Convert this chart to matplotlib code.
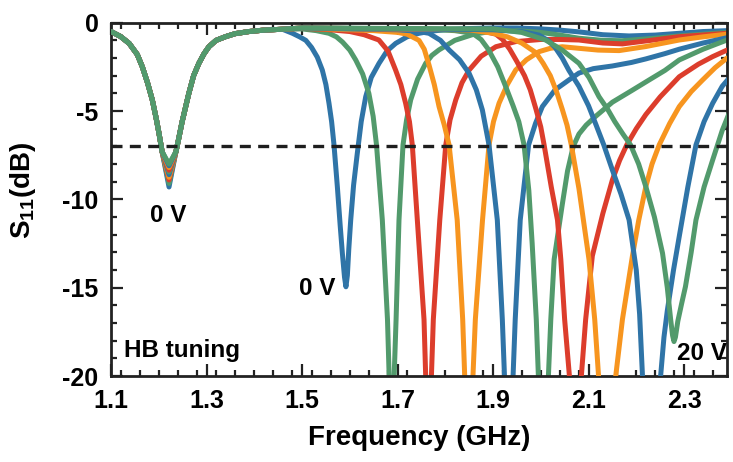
import matplotlib
matplotlib.use("Agg")
import matplotlib.pyplot as plt
from matplotlib.ticker import MultipleLocator

plt.rcParams["font.family"] = ["Liberation Sans", "DejaVu Sans"]
plt.rcParams["font.weight"] = "bold"
plt.rcParams["mathtext.fontset"] = "custom"
plt.rcParams["mathtext.rm"] = "Liberation Sans:bold"
plt.rcParams["mathtext.it"] = "Liberation Sans:bold"
plt.rcParams["mathtext.bf"] = "Liberation Sans:bold"

# ── data ─────────────────────────────────────────────────────────────────────

# low band resonance, shared by all bias voltages (only the dip depth changes)
LOW_LEFT_F = [1.10, 1.12, 1.138, 1.155, 1.1655, 1.1765, 1.1865, 1.1945, 1.2005, 1.207]
LOW_LEFT_S = [-0.5, -0.78, -1.17, -1.8, -2.49, -3.4, -4.37, -5.4, -6.26, -7.3]
DIP_F = 1.2215
LOW_DIP = [-9.3, -9.1, -8.9, -8.75, -8.6, -8.45, -8.35, -8.2, -8.1, -8.0]
LOW_RIGHT_F = [1.236, 1.24, 1.249, 1.263, 1.273, 1.284, 1.295, 1.305, 1.32, 1.34,
               1.36, 1.389, 1.42, 1.459]
LOW_RIGHT_S = [-7.3, -6.8, -5.6, -4.0, -3.0, -2.3, -1.75, -1.36, -1.0, -0.79,
               -0.62, -0.5, -0.42, -0.37]

# high band, one curve per bias step (0 V ... 20 V)
freq_c1 = [1.48, 1.495, 1.508, 1.52, 1.532, 1.5425, 1.55, 1.5565, 1.562, 1.567,
           1.574, 1.580, 1.5845, 1.589, 1.592, 1.595, 1.598, 1.602, 1.608, 1.6158,
           1.624, 1.6334, 1.645, 1.6613, 1.678, 1.6962, 1.72, 1.745, 1.77, 1.80,
           1.85, 1.90, 1.95, 2.00, 2.04, 2.08, 2.13, 2.185, 2.24, 2.29, 2.34, 2.39]
s11_c1 = [-0.6, -0.8, -1.0, -1.4, -1.95, -2.68, -3.5, -4.56, -5.6, -6.92,
          -9.28, -11.5, -13.05, -14.4, -14.95, -14.3, -12.8, -11.17, -9.2, -7.39,
          -5.6, -4.19, -3.1, -2.3, -1.6, -1.17, -0.8, -0.6, -0.48, -0.4,
          -0.33, -0.3, -0.3, -0.35, -0.42, -0.52, -0.68, -0.75, -0.7, -0.6, -0.5, -0.45]

freq_c2 = [1.50, 1.53, 1.5565, 1.572, 1.585, 1.60, 1.6125, 1.627, 1.64, 1.649,
           1.656, 1.6682, 1.679, 1.6825, 1.6875, 1.693, 1.697, 1.7031, 1.7115, 1.719,
           1.7276, 1.742, 1.759, 1.772, 1.7869, 1.82, 1.86, 1.906, 1.95, 2.00,
           2.04, 2.08, 2.13, 2.17, 2.23, 2.29, 2.39]
s11_c2 = [-0.35, -0.45, -0.6, -0.8, -1.1, -1.55, -2.11, -2.9, -4.0, -5.3,
          -6.92, -11.17, -16.8, -20.0, -25.0, -20.0, -16.8, -11.17, -6.92, -5.5,
          -4.37, -3.2, -2.3, -1.85, -1.54, -1.0, -0.65, -0.45, -0.45, -0.55,
          -0.7, -0.88, -1.0, -1.02, -0.9, -0.75, -0.55]

freq_c3 = [1.50, 1.55, 1.60, 1.63, 1.661, 1.680, 1.696, 1.707, 1.717, 1.725,
           1.731, 1.7415, 1.7555, 1.759, 1.765, 1.771, 1.775, 1.7885, 1.801, 1.81,
           1.822, 1.835, 1.850, 1.875, 1.906, 1.9475, 2.00, 2.04, 2.08, 2.13,
           2.171, 2.23, 2.29, 2.39]
s11_c3 = [-0.32, -0.38, -0.5, -0.68, -0.98, -1.6, -2.68, -3.5, -4.56, -5.6,
          -6.92, -11.17, -16.8, -20.0, -26.0, -20.0, -16.8, -11.17, -6.92, -5.5,
          -4.37, -3.4, -2.68, -1.9, -1.36, -1.07, -0.95, -0.95, -0.98, -1.15,
          -1.2, -1.0, -0.79, -0.6]

freq_c4 = [1.50, 1.65, 1.70, 1.72, 1.745, 1.756, 1.766, 1.777, 1.787, 1.798,
           1.808, 1.825, 1.8365, 1.8407, 1.849, 1.858, 1.863, 1.878, 1.8916, 1.901,
           1.9126, 1.93, 1.9475, 1.97, 1.9963, 2.02, 2.045, 2.08, 2.12, 2.164,
           2.22, 2.29, 2.34, 2.39]
s11_c4 = [-0.3, -0.45, -0.55, -0.65, -1.0, -1.5, -2.4, -3.5, -4.75, -5.8,
          -6.92, -11.17, -16.8, -20.0, -26.0, -20.0, -16.8, -11.17, -6.92, -5.6,
          -4.56, -3.5, -2.68, -2.1, -1.64, -1.45, -1.36, -1.45, -1.55, -1.58,
          -1.35, -0.98, -0.8, -0.65]

freq_c5 = [1.50, 1.70, 1.74, 1.766, 1.79, 1.808, 1.83, 1.85, 1.865, 1.8777,
           1.8916, 1.909, 1.9195, 1.924, 1.933, 1.942, 1.9465, 1.957, 1.9745, 1.989,
           2.0033, 2.03, 2.059, 2.08, 2.11, 2.15, 2.19, 2.22, 2.26, 2.29,
           2.34, 2.39]
s11_c5 = [-0.3, -0.4, -0.48, -0.6, -1.0, -1.54, -2.1, -2.87, -3.8, -4.94,
          -6.92, -11.17, -16.8, -20.0, -26.0, -20.0, -16.8, -11.17, -6.92, -5.7,
          -4.75, -3.8, -3.24, -2.85, -2.6, -2.45, -2.25, -2.05, -1.75, -1.5,
          -1.15, -0.85]

freq_c6 = [1.50, 1.75, 1.82, 1.857, 1.875, 1.89, 1.91, 1.9266, 1.942, 1.954,
           1.965, 1.975, 1.982, 1.9906, 1.995, 2.0055, 2.016, 2.021, 2.028, 2.045,
           2.056, 2.068, 2.08, 2.095, 2.115, 2.15, 2.19, 2.227, 2.26, 2.29,
           2.34, 2.39]
s11_c6 = [-0.3, -0.35, -0.45, -0.6, -0.95, -1.5, -2.5, -3.62, -4.7, -5.6,
          -6.92, -9.5, -12.5, -16.8, -20.0, -26.0, -20.0, -16.8, -13.4, -10.3,
          -8.4, -7.0, -6.3, -5.8, -5.3, -4.5, -3.85, -3.24, -2.7, -2.11,
          -1.5, -0.98]

freq_c7 = [1.50, 1.85, 1.88, 1.906, 1.92, 1.935, 1.95, 1.966, 1.978, 1.99,
           2.0, 2.007, 2.022, 2.035, 2.042, 2.050, 2.060, 2.0725, 2.085, 2.094,
           2.108, 2.13, 2.15, 2.165, 2.18, 2.20, 2.22, 2.25, 2.29, 2.33,
           2.36, 2.39]
s11_c7 = [-0.3, -0.4, -0.48, -0.65, -0.95, -1.5, -2.2, -3.0, -3.8, -4.9,
          -5.9, -6.92, -9.3, -11.17, -13.4, -16.8, -20.0, -26.0, -20.0, -16.8,
          -13.2, -10.8, -8.9, -7.8, -6.92, -6.0, -5.2, -4.2, -3.06, -2.35,
          -1.92, -1.55]

freq_c8 = [1.50, 1.85, 1.90, 1.93, 1.96, 1.99, 2.005, 2.02, 2.033, 2.045,
           2.055, 2.064, 2.08, 2.101, 2.113, 2.121, 2.139, 2.157, 2.171, 2.192,
           2.205, 2.22, 2.233, 2.248, 2.27, 2.29, 2.315, 2.339, 2.365, 2.39]
s11_c8 = [-0.3, -0.4, -0.6, -0.8, -1.15, -1.7, -2.3, -3.0, -3.9, -4.9,
          -5.8, -6.92, -9.4, -13.4, -16.8, -20.0, -26.0, -20.0, -16.8, -13.2,
          -11.2, -9.28, -8.0, -6.92, -5.7, -4.75, -3.9, -3.24, -2.55, -2.0]

freq_c9 = [1.50, 1.90, 1.96, 1.996, 2.015, 2.03, 2.045, 2.059, 2.08, 2.10,
           2.116, 2.132, 2.15, 2.168, 2.185, 2.20, 2.207, 2.213, 2.232, 2.251,
           2.258, 2.265, 2.278, 2.29, 2.308, 2.325, 2.342, 2.36, 2.38, 2.40]
s11_c9 = [-0.3, -0.4, -0.5, -0.7, -1.0, -1.4, -2.0, -2.7, -3.6, -4.7,
          -5.8, -6.92, -8.34, -9.7, -11.17, -14.0, -16.5, -20.0, -26.0, -20.0,
          -17.8, -16.3, -14.0, -12.1, -9.3, -6.92, -5.6, -4.56, -3.6, -2.96]

freq_c10 = [1.50, 1.90, 1.96, 2.01, 2.045, 2.08, 2.101, 2.122, 2.14, 2.155,
            2.172, 2.188, 2.205, 2.22, 2.238, 2.255, 2.265, 2.272, 2.276, 2.279,
            2.282, 2.287, 2.295, 2.303, 2.315, 2.325, 2.342, 2.36, 2.38, 2.40]
s11_c10 = [-0.3, -0.35, -0.55, -0.98, -1.55, -2.3, -3.1, -4.19, -4.9, -5.6,
           -6.3, -6.92, -8.0, -9.28, -11.0, -13.05, -15.0, -16.8, -17.7, -18.05,
           -17.8, -16.9, -15.9, -14.94, -13.0, -11.17, -9.3, -7.77, -6.1, -4.75]

HB_FREQ = [freq_c1, freq_c2, freq_c3, freq_c4, freq_c5,
           freq_c6, freq_c7, freq_c8, freq_c9, freq_c10]
HB_S11 = [s11_c1, s11_c2, s11_c3, s11_c4, s11_c5,
          s11_c6, s11_c7, s11_c8, s11_c9, s11_c10]

LIMIT_DB = -7

# ── style ────────────────────────────────────────────────────────────────────
BLUE   = "#2f74a7"
GREEN  = "#529a6c"
RED    = "#dc3d2c"
ORANGE = "#f7951f"
COLORS = [BLUE, GREEN, RED, ORANGE, BLUE, GREEN, RED, ORANGE, BLUE, GREEN]
TICK_SIZE  = 18
LABEL_SIZE = 20
NOTE_SIZE  = 17.5

fig = plt.figure(figsize=(7.33, 4.62), dpi=100)
ax = fig.add_axes([111 / 733, 1 - 376 / 462, 616 / 733, 353.3 / 462])

for i in range(len(HB_FREQ)):
    f = LOW_LEFT_F + [DIP_F] + LOW_RIGHT_F + HB_FREQ[i]
    s = LOW_LEFT_S + [LOW_DIP[i]] + LOW_RIGHT_S + HB_S11[i]
    ax.plot(f, s, color=COLORS[i], linewidth=3.6, solid_joinstyle="round",
            solid_capstyle="round", zorder=2 + i * 0.1)

ax.axhline(LIMIT_DB, color="#1e1e1e", linewidth=2.4, dashes=(3.3, 2.2), zorder=4)

ax.set_xlim(1.1, 2.39)
ax.set_ylim(-20, 0)
ax.xaxis.set_minor_locator(MultipleLocator(0.04))
ax.yaxis.set_minor_locator(MultipleLocator(1))
ax.set_xticks([1.1, 1.3, 1.5, 1.7, 1.9, 2.1, 2.3])
ax.set_xticklabels(["1.1", "1.3", "1.5", "1.7", "1.9", "2.1", "2.3"])
ax.set_yticks([0, -5, -10, -15, -20])
ax.set_yticklabels(["0", "-5", "-10", "-15", "-20"])

ax.tick_params(which="both", direction="in", top=True, right=True,
               width=1.6, color="#222222", labelsize=TICK_SIZE)
ax.tick_params(which="major", length=8.5)
ax.tick_params(which="minor", length=4.5)
ax.tick_params(axis="x", pad=9)
ax.tick_params(axis="y", pad=9)
for sp in ax.spines.values():
    sp.set_linewidth(2.0)
    sp.set_color("#222222")

ax.set_xlabel("Frequency (GHz)", fontsize=LABEL_SIZE, fontweight="bold", labelpad=9)
ax.set_ylabel("S$_{11}$(dB)", fontsize=LABEL_SIZE, fontweight="bold")
ax.yaxis.set_label_coords(-0.118, 0.525)

ax.text(1.2208, -11.26, "0 V", fontsize=NOTE_SIZE, fontweight="bold",
        ha="center", va="baseline", zorder=6)
ax.text(1.532, -15.41, "0 V", fontsize=NOTE_SIZE, fontweight="bold",
        ha="center", va="baseline", zorder=6)
ax.text(2.3367, -19.09, "20 V", fontsize=NOTE_SIZE, fontweight="bold",
        ha="center", va="baseline", zorder=6)
ax.text(1.127, -18.9, "HB tuning", fontsize=NOTE_SIZE, fontweight="bold",
        ha="left", va="baseline", zorder=6)

plt.savefig("out.png", dpi=100)
plt.close()
